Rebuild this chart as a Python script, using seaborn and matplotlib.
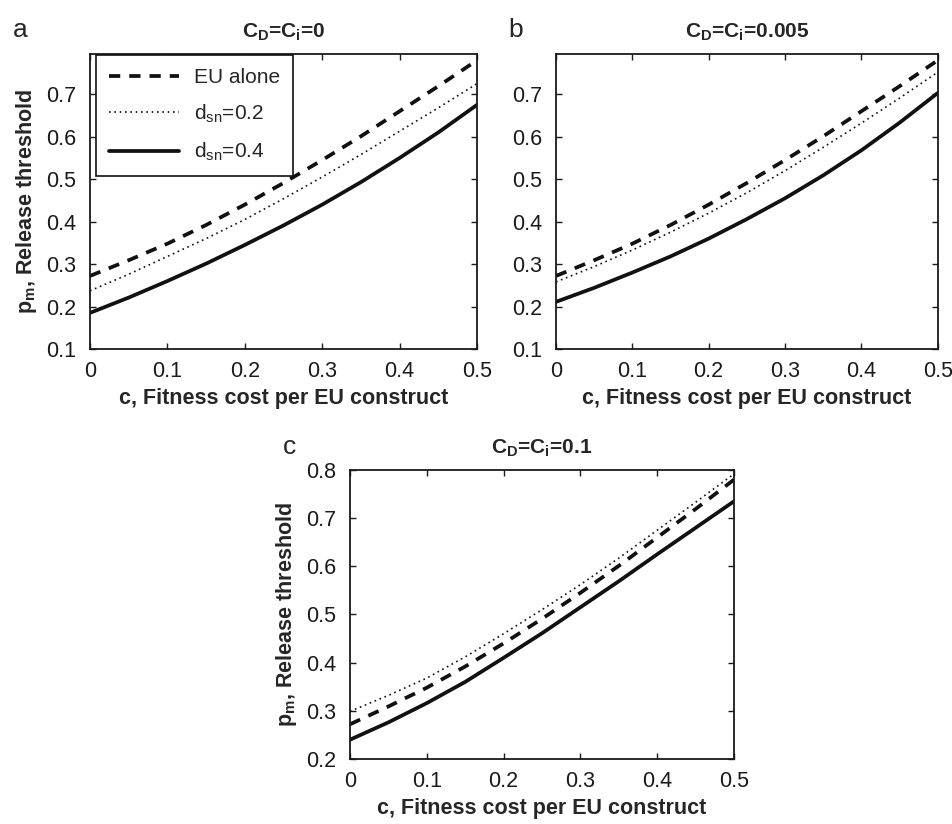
import numpy as np
import pandas as pd
import seaborn as sns
import matplotlib.pyplot as plt

cost = [0.0, 0.05, 0.10, 0.15, 0.20, 0.25, 0.30, 0.35, 0.40, 0.45, 0.50]

# EU alone curve (same in all panels)
eu_alone = [0.272, 0.309, 0.348, 0.392, 0.440, 0.491, 0.545, 0.601, 0.660, 0.719, 0.780]

# panel a: C_D = C_i = 0
a_dsn02 = [0.237, 0.276, 0.318, 0.360, 0.405, 0.454, 0.505, 0.558, 0.613, 0.668, 0.725]
a_dsn04 = [0.185, 0.221, 0.260, 0.301, 0.345, 0.391, 0.440, 0.493, 0.550, 0.610, 0.675]

# panel b: C_D = C_i = 0.005
b_dsn02 = [0.258, 0.294, 0.333, 0.375, 0.420, 0.468, 0.520, 0.575, 0.632, 0.691, 0.752]
b_dsn04 = [0.211, 0.244, 0.280, 0.318, 0.360, 0.406, 0.455, 0.509, 0.568, 0.633, 0.703]

# panel c: C_D = C_i = 0.1
c_dsn02 = [0.299, 0.332, 0.368, 0.412, 0.460, 0.510, 0.562, 0.617, 0.675, 0.733, 0.792]
c_dsn04 = [0.240, 0.276, 0.316, 0.360, 0.410, 0.461, 0.515, 0.569, 0.625, 0.680, 0.735]

series_labels = ["EU alone", r"d$_{\mathrm{sn}}$=0.2", r"d$_{\mathrm{sn}}$=0.4"]
titles = [r"C$_\mathbf{D}$=C$_\mathbf{i}$=0", r"C$_\mathbf{D}$=C$_\mathbf{i}$=0.005",
          r"C$_\mathbf{D}$=C$_\mathbf{i}$=0.1"]
panel_letters = ["a", "b", "c"]
xticks = [0, 0.1, 0.2, 0.3, 0.4, 0.5]

sns.set_style("ticks")
plt.rcParams["font.family"] = ["Liberation Sans", "DejaVu Sans"]
plt.rcParams["mathtext.fontset"] = "custom"
plt.rcParams["mathtext.rm"] = "Liberation Sans"
plt.rcParams["mathtext.bf"] = "Liberation Sans:bold"
plt.rcParams["xtick.direction"] = "in"
plt.rcParams["ytick.direction"] = "in"
plt.rcParams["xtick.top"] = True
plt.rcParams["ytick.right"] = True
plt.rcParams["axes.edgecolor"] = "#1a1a1a"
plt.rcParams["axes.linewidth"] = 1.3

panels = [
    (eu_alone, a_dsn02, a_dsn04),
    (eu_alone, b_dsn02, b_dsn04),
    (eu_alone, c_dsn02, c_dsn04),
]

fig = plt.figure(figsize=(9.52, 8.24), dpi=100)
axes = [
    fig.add_axes([0.0945, 0.5765, 0.4065, 0.358]),
    fig.add_axes([0.584, 0.5765, 0.401, 0.358]),
    fig.add_axes([0.3676, 0.0789, 0.4034, 0.3507]),
]

styles = [
    dict(linestyle=(0, (3.0, 2.4)), linewidth=2.7),
    dict(linestyle=(0, (1, 2.2)), linewidth=1.2),
    dict(linestyle="-", linewidth=2.7),
]

for i, ax in enumerate(axes):
    for vals, lab, st in zip(panels[i], series_labels, styles):
        df = pd.DataFrame({"cost": cost, "pm": vals})
        sns.lineplot(data=df, x="cost", y="pm", ax=ax, color="#111111",
                     label=lab if i == 0 else None, **st)
    ax.set_xlim(0, 0.5)
    ax.set_xticks(xticks)
    ax.set_xticklabels(["0", "0.1", "0.2", "0.3", "0.4", "0.5"])
    if i < 2:
        ax.set_ylim(0.1, 0.795)
        ax.set_yticks([0.1, 0.2, 0.3, 0.4, 0.5, 0.6, 0.7])
    else:
        ax.set_ylim(0.2, 0.8)
        ax.set_yticks([0.2, 0.3, 0.4, 0.5, 0.6, 0.7, 0.8])
    ax.tick_params(labelsize=15.5, length=4, width=1, colors="#1a1a1a")
    ax.tick_params(axis="x", pad=9)
    ax.tick_params(axis="y", pad=10)
    ax.set_xlabel("c, Fitness cost per EU construct", fontsize=15.5,
                  fontweight="bold", labelpad=4)
    if i != 1:
        ax.set_ylabel(r"p$_\mathbf{m}$, Release threshold", fontsize=15.5,
                      fontweight="bold", labelpad=5)
    else:
        ax.set_ylabel("")
    ax.set_title(titles[i], fontsize=15, fontweight="bold", pad=12)
    if i == 0:
        ax.text(-0.2, 1.081, panel_letters[i], transform=ax.transAxes,
                fontsize=19, va="center", ha="left")
    elif i == 1:
        ax.text(-0.126, 1.081, panel_letters[i], transform=ax.transAxes,
                fontsize=19, va="center", ha="left")
    else:
        ax.text(-0.174, 1.08, panel_letters[i], transform=ax.transAxes,
                fontsize=19, va="center", ha="left")

leg = axes[0].legend(loc="upper left", bbox_to_anchor=(0.016, 0.995),
                     borderaxespad=0, fontsize=15, handlelength=3.4,
                     labelspacing=0.75, fancybox=False, framealpha=1,
                     edgecolor="#111111", borderpad=0.6, handletextpad=0.7)
leg.get_frame().set_linewidth(1.2)

fig.savefig("out.png", dpi=100)
